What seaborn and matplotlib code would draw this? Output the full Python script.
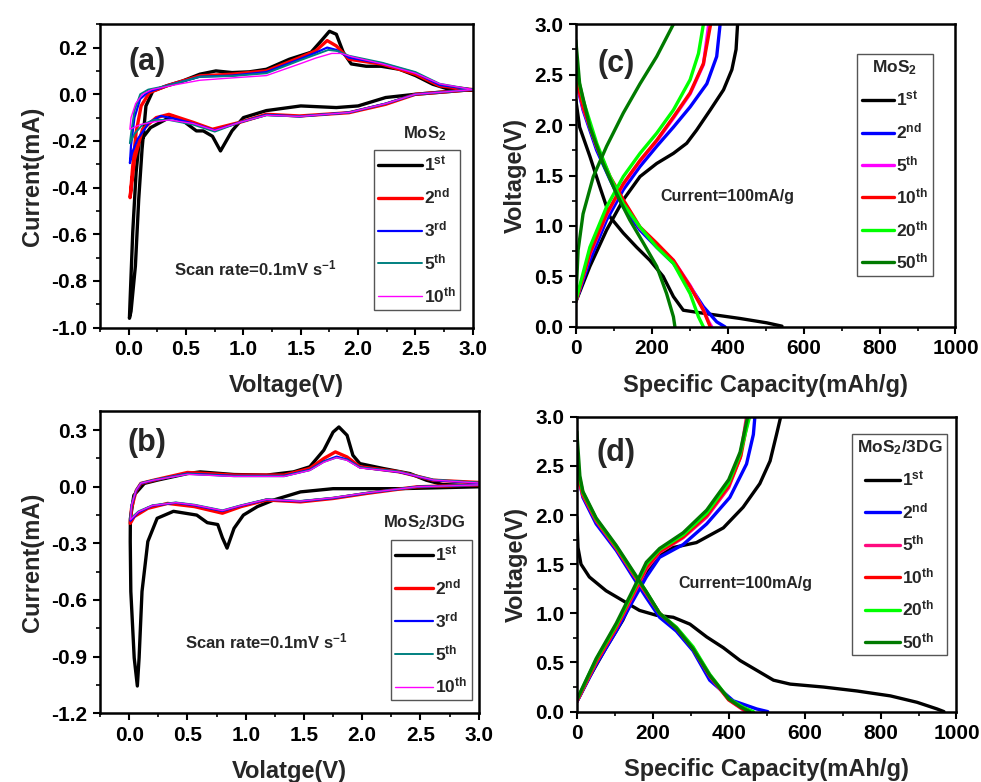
import numpy as np
import pandas as pd
import matplotlib
matplotlib.use('Agg')
import matplotlib.pyplot as plt
from matplotlib.ticker import MultipleLocator, FormatStrFormatter
import seaborn as sns

# ---- CV data, MoS2 (panel a): voltage (V), current (mA), one closed loop per cycle
a_1st_V = [3.0, 2.5, 2.24, 2.0, 1.81, 1.5, 1.2, 1.0, 0.9, 0.8, 0.73, 0.65, 0.59, 0.49, 0.38, 0.3, 0.19, 0.09, 0.064, 0.035, 0.012, 0.006,
           0.02, 0.058, 0.087, 0.116, 0.15, 0.21, 0.33, 0.47, 0.62, 0.76, 0.9, 1.05, 1.2, 1.4, 1.59, 1.68, 1.75, 1.81, 1.87, 1.94, 2.07, 2.2, 2.36, 2.5, 2.65, 2.8, 3.0]
a_1st_I = [0.02, 0.0, -0.014, -0.05, -0.057, -0.05, -0.07, -0.1, -0.157, -0.243, -0.18, -0.157, -0.157, -0.12, -0.093, -0.114, -0.143, -0.207, -0.336, -0.59, -0.88, -0.96,
           -0.93, -0.736, -0.45, -0.236, -0.05, 0.014, 0.036, 0.057, 0.086, 0.1, 0.093, 0.096, 0.107, 0.15, 0.18, 0.23, 0.27, 0.257, 0.18, 0.13, 0.12, 0.12, 0.107, 0.08, 0.043, 0.02, 0.018]
a_2nd_V = [3.0, 2.5, 2.24, 1.92, 1.49, 1.2, 0.97, 0.73, 0.56, 0.35, 0.24, 0.12, 0.05, 0.012,
           0.035, 0.064, 0.108, 0.18, 0.33, 0.62, 0.9, 1.2, 1.49, 1.63, 1.73, 1.81, 1.92, 2.21, 2.5, 2.71, 3.0]
a_2nd_I = [0.02, 0.0, -0.043, -0.079, -0.093, -0.086, -0.12, -0.15, -0.12, -0.086, -0.1, -0.15, -0.28, -0.443,
           -0.307, -0.164, -0.05, 0.007, 0.036, 0.079, 0.086, 0.1, 0.157, 0.186, 0.23, 0.207, 0.15, 0.129, 0.086, 0.036, 0.02]
a_3rd_V = [3.0, 2.5, 2.24, 1.92, 1.49, 1.2, 0.97, 0.75, 0.56, 0.4, 0.28, 0.18, 0.08, 0.03, 0.01,
           0.02, 0.05, 0.1, 0.17, 0.33, 0.62, 0.9, 1.2, 1.49, 1.63, 1.73, 1.81, 1.92, 2.21, 2.5, 2.71, 3.0]
a_3rd_I = [0.02, 0.0, -0.04, -0.078, -0.095, -0.088, -0.12, -0.155, -0.125, -0.105, -0.093, -0.12, -0.19, -0.25, -0.295,
           -0.22, -0.1, -0.02, 0.01, 0.036, 0.075, 0.08, 0.095, 0.15, 0.178, 0.2, 0.19, 0.157, 0.132, 0.092, 0.04, 0.02]
a_5th_V = [3.0, 2.5, 2.24, 1.92, 1.49, 1.2, 0.97, 0.75, 0.56, 0.35, 0.22, 0.12, 0.05, 0.01,
           0.02, 0.05, 0.1, 0.17, 0.33, 0.62, 0.9, 1.2, 1.49, 1.63, 1.74, 1.82, 1.92, 2.21, 2.5, 2.71, 3.0]
a_5th_I = [0.02, 0.0, -0.04, -0.078, -0.095, -0.09, -0.12, -0.16, -0.13, -0.11, -0.11, -0.13, -0.17, -0.21,
           -0.17, -0.07, 0.0, 0.02, 0.036, 0.075, 0.078, 0.09, 0.145, 0.17, 0.19, 0.185, 0.165, 0.135, 0.095, 0.045, 0.02]
a_10th_V = [3.0, 2.5, 2.24, 1.92, 1.49, 1.2, 0.97, 0.75, 0.56, 0.35, 0.2, 0.1, 0.01,
            0.02, 0.06, 0.12, 0.2, 0.4, 0.62, 0.9, 1.2, 1.49, 1.63, 1.77, 1.85, 1.95, 2.21, 2.5, 2.71, 3.0]
a_10th_I = [0.02, 0.0, -0.04, -0.078, -0.095, -0.09, -0.12, -0.155, -0.125, -0.11, -0.12, -0.13, -0.15,
            -0.1, -0.04, 0.0, 0.02, 0.04, 0.06, 0.07, 0.08, 0.13, 0.155, 0.175, 0.175, 0.16, 0.13, 0.09, 0.045, 0.02]

# ---- CV data, MoS2/3DG (panel b)
b_1st_V = [3.0, 2.32, 1.75, 1.47, 1.24, 1.1, 0.98, 0.9, 0.84, 0.8, 0.76, 0.67, 0.58, 0.38, 0.24, 0.16, 0.11, 0.085, 0.07, 0.043, 0.014, 0.009,
           0.01, 0.04, 0.13, 0.24, 0.5, 0.61, 0.9, 1.18, 1.41, 1.55, 1.67, 1.75, 1.8, 1.87, 1.92, 1.98, 2.18, 2.41, 2.55, 2.69, 3.0]
b_1st_I = [0.0, -0.01, -0.01, -0.027, -0.07, -0.105, -0.15, -0.22, -0.325, -0.27, -0.2, -0.19, -0.15, -0.13, -0.167, -0.29, -0.555, -0.907, -1.056, -0.907, -0.555, -0.29,
           -0.17, -0.045, 0.018, 0.035, 0.07, 0.079, 0.065, 0.062, 0.079, 0.106, 0.194, 0.29, 0.317, 0.273, 0.167, 0.123, 0.097, 0.07, 0.035, 0.012, 0.005]
b_2nd_V = [3.0, 2.47, 2.04, 1.75, 1.47, 1.18, 0.96, 0.8, 0.56, 0.33, 0.16, 0.043, 0.009,
           0.02, 0.06, 0.1, 0.21, 0.5, 0.9, 1.33, 1.55, 1.67, 1.77, 1.87, 1.98, 2.32, 2.61, 3.0]
b_2nd_I = [0.01, 0.0, -0.035, -0.062, -0.08, -0.07, -0.105, -0.14, -0.105, -0.088, -0.114, -0.158, -0.194,
           -0.114, -0.02, 0.018, 0.035, 0.076, 0.062, 0.062, 0.097, 0.15, 0.185, 0.158, 0.106, 0.079, 0.035, 0.023]
b_3rd_V = [3.0, 2.47, 2.04, 1.75, 1.47, 1.18, 0.96, 0.8, 0.56, 0.4, 0.2, 0.08, 0.01,
           0.02, 0.06, 0.1, 0.21, 0.5, 0.9, 1.33, 1.55, 1.67, 1.78, 1.87, 1.98, 2.32, 2.61, 3.0]
b_3rd_I = [0.01, 0.0, -0.033, -0.06, -0.077, -0.068, -0.1, -0.128, -0.098, -0.085, -0.1, -0.135, -0.18,
           -0.1, -0.02, 0.018, 0.035, 0.07, 0.058, 0.058, 0.09, 0.135, 0.16, 0.145, 0.103, 0.078, 0.035, 0.02]
b_5th_V = [3.0, 2.47, 2.04, 1.75, 1.47, 1.18, 0.96, 0.8, 0.56, 0.4, 0.2, 0.08, 0.01,
           0.02, 0.06, 0.1, 0.21, 0.5, 0.9, 1.33, 1.55, 1.67, 1.78, 1.87, 1.98, 2.32, 2.61, 3.0]
b_5th_I = [0.01, 0.0, -0.032, -0.058, -0.075, -0.066, -0.098, -0.125, -0.095, -0.083, -0.098, -0.13, -0.17,
           -0.095, -0.015, 0.02, 0.036, 0.068, 0.056, 0.056, 0.088, 0.132, 0.155, 0.142, 0.102, 0.08, 0.038, 0.022]
b_10th_V = [3.0, 2.47, 2.04, 1.75, 1.47, 1.18, 0.96, 0.8, 0.56, 0.4, 0.2, 0.08, 0.01,
            0.02, 0.06, 0.1, 0.21, 0.5, 0.9, 1.33, 1.55, 1.67, 1.78, 1.87, 1.98, 2.32, 2.61, 3.0]
b_10th_I = [0.01, 0.0, -0.032, -0.058, -0.076, -0.067, -0.099, -0.126, -0.096, -0.084, -0.099, -0.132, -0.175,
            -0.097, -0.017, 0.019, 0.035, 0.066, 0.055, 0.055, 0.087, 0.13, 0.155, 0.14, 0.1, 0.078, 0.036, 0.02]

# ---- charge/discharge, MoS2 (panel c): capacity (mAh/g), voltage (V)
c_1st_dQ = [0, 10, 37, 63, 90, 125, 160, 195, 230, 257, 283, 345, 433, 503, 543]
c_1st_dV = [2.25, 1.98, 1.69, 1.39, 1.09, 0.93, 0.79, 0.66, 0.5, 0.3, 0.165, 0.13, 0.083, 0.04, 0.007]
c_1st_cQ = [0, 37, 81, 125, 169, 213, 257, 292, 318, 354, 389, 411, 422, 426]
c_1st_cV = [0.25, 0.6, 0.96, 1.26, 1.49, 1.62, 1.72, 1.82, 1.95, 2.15, 2.35, 2.55, 2.75, 3.0]
c_2nd_dQ = [0, 19, 55, 90, 125, 169, 213, 257, 301, 336, 371, 393]
c_2nd_dV = [2.45, 2.15, 1.75, 1.46, 1.19, 0.96, 0.79, 0.63, 0.4, 0.2, 0.05, 0.0]
c_2nd_cQ = [0, 37, 81, 125, 169, 213, 257, 301, 345, 371, 380]
c_2nd_cV = [0.25, 0.66, 1.06, 1.36, 1.59, 1.79, 1.98, 2.18, 2.41, 2.68, 3.0]
c_5th_dQ = [0, 19, 55, 90, 125, 169, 213, 257, 301, 336, 350, 358]
c_5th_dV = [2.46, 2.17, 1.78, 1.48, 1.25, 0.98, 0.82, 0.66, 0.41, 0.17, 0.05, 0.0]
c_5th_cQ = [0, 37, 81, 125, 169, 213, 257, 301, 336, 350]
c_5th_cV = [0.25, 0.72, 1.11, 1.41, 1.64, 1.84, 2.07, 2.31, 2.6, 3.0]
c_10th_dQ = [0, 19, 55, 90, 125, 169, 213, 257, 301, 336, 354]
c_10th_dV = [2.48, 2.18, 1.79, 1.49, 1.26, 0.99, 0.83, 0.66, 0.4, 0.165, 0.0]
c_10th_cQ = [0, 37, 81, 125, 169, 213, 257, 301, 336, 355]
c_10th_cV = [0.25, 0.73, 1.12, 1.42, 1.65, 1.85, 2.08, 2.32, 2.61, 3.0]
c_20th_dQ = [0, 19, 55, 90, 125, 169, 213, 257, 301, 323, 336]
c_20th_dV = [2.58, 2.25, 1.82, 1.49, 1.22, 0.99, 0.79, 0.63, 0.33, 0.1, 0.0]
c_20th_cQ = [0, 37, 81, 125, 169, 213, 257, 301, 323, 336]
c_20th_cV = [0.26, 0.79, 1.19, 1.49, 1.72, 1.92, 2.15, 2.45, 2.71, 3.0]
c_50th_dQ = [0, 10, 37, 72, 107, 142, 178, 213, 239, 257, 261]
c_50th_dV = [2.84, 2.41, 1.98, 1.62, 1.32, 1.06, 0.83, 0.6, 0.33, 0.1, 0.0]
c_50th_cQ = [0, 6, 19, 46, 81, 125, 169, 213, 257]
c_50th_cV = [0.26, 0.76, 1.12, 1.49, 1.79, 2.12, 2.41, 2.68, 3.0]

# ---- charge/discharge, MoS2/3DG (panel d)
d_1st_dQ = [0, 3, 11, 33, 77, 121, 165, 210, 254, 298, 342, 386, 430, 474, 518, 562, 650, 738, 826, 896, 949, 967]
d_1st_dV = [1.98, 1.67, 1.5, 1.37, 1.23, 1.13, 1.03, 0.98, 0.96, 0.89, 0.76, 0.65, 0.52, 0.42, 0.32, 0.28, 0.25, 0.21, 0.16, 0.095, 0.027, 0.0]
d_1st_cQ = [0, 33, 77, 121, 148, 174, 210, 254, 315, 386, 438, 482, 509, 526, 537]
d_1st_cV = [0.1, 0.35, 0.65, 0.93, 1.16, 1.37, 1.57, 1.67, 1.72, 1.87, 2.08, 2.32, 2.55, 2.82, 3.0]
d_2nd_dQ = [0, 16, 51, 104, 148, 183, 218, 262, 306, 350, 412, 474, 503]
d_2nd_dV = [2.45, 2.18, 1.91, 1.64, 1.37, 1.16, 0.96, 0.82, 0.62, 0.32, 0.11, 0.027, 0.0]
d_2nd_cQ = [0, 51, 104, 148, 183, 218, 280, 342, 403, 447, 465, 469]
d_2nd_cV = [0.1, 0.48, 0.82, 1.13, 1.37, 1.57, 1.7, 1.91, 2.18, 2.52, 2.82, 3.0]
d_5th_dQ = [0, 16, 51, 104, 148, 183, 218, 262, 306, 350, 400, 430, 445]
d_5th_dV = [2.42, 2.2, 1.94, 1.66, 1.4, 1.2, 1.0, 0.85, 0.64, 0.36, 0.12, 0.04, 0.0]
d_5th_cQ = [0, 51, 104, 148, 183, 218, 280, 342, 400, 430, 447]
d_5th_cV = [0.1, 0.5, 0.85, 1.18, 1.45, 1.62, 1.77, 1.98, 2.28, 2.58, 3.0]
d_10th_dQ = [0, 16, 51, 104, 148, 183, 218, 262, 306, 350, 400, 432, 450]
d_10th_dV = [2.44, 2.21, 1.95, 1.67, 1.41, 1.21, 1.0, 0.85, 0.65, 0.37, 0.12, 0.04, 0.0]
d_10th_cQ = [0, 51, 104, 148, 183, 218, 280, 342, 400, 432, 452]
d_10th_cV = [0.11, 0.51, 0.86, 1.2, 1.47, 1.63, 1.78, 2.0, 2.3, 2.6, 3.0]
d_20th_dQ = [0, 16, 51, 104, 148, 183, 218, 262, 306, 350, 400, 440, 465]
d_20th_dV = [2.5, 2.23, 1.96, 1.68, 1.42, 1.22, 1.0, 0.86, 0.66, 0.38, 0.13, 0.04, 0.0]
d_20th_cQ = [0, 51, 104, 148, 183, 218, 280, 342, 400, 430, 455]
d_20th_cV = [0.12, 0.53, 0.88, 1.22, 1.5, 1.65, 1.8, 2.02, 2.33, 2.62, 3.0]
d_50th_dQ = [0, 8, 16, 51, 104, 148, 183, 218, 262, 306, 350, 400, 430, 455]
d_50th_dV = [2.85, 2.4, 2.24, 1.97, 1.69, 1.43, 1.22, 1.0, 0.85, 0.64, 0.37, 0.13, 0.05, 0.0]
d_50th_cQ = [0, 51, 104, 148, 183, 218, 280, 342, 400, 430, 450]
d_50th_cV = [0.12, 0.54, 0.9, 1.24, 1.52, 1.66, 1.82, 2.05, 2.36, 2.64, 3.0]

cv_labels = ['1$^{st}$', '2$^{nd}$', '3$^{rd}$', '5$^{th}$', '10$^{th}$']
cv_colors = ['black', '#ff0000', '#0000ff', '#008080', '#ff00ff']
cv_widths = [2.4, 2.4, 1.6, 1.4, 1.0]
gcd_labels = ['1$^{st}$', '2$^{nd}$', '5$^{th}$', '10$^{th}$', '20$^{th}$', '50$^{th}$']
c_colors = ['black', '#0000ff', '#ff00ff', '#ff0000', '#00ff00', '#007a00']
d_colors = ['black', '#0000ff', '#ff0a7f', '#ff0000', '#00ff00', '#007a00']

sns.set_theme(style='ticks')
plt.rcParams['font.family'] = ['Liberation Sans', 'DejaVu Sans']
plt.rcParams.update({
    'font.weight': 'bold', 'axes.labelweight': 'bold',
    'mathtext.fontset': 'custom', 'mathtext.rm': 'Liberation Sans:bold',
    'mathtext.it': 'Liberation Sans:bold', 'mathtext.bf': 'Liberation Sans:bold',
    'mathtext.default': 'rm',
    'axes.edgecolor': 'black', 'axes.linewidth': 1.8,
    'xtick.direction': 'out', 'ytick.direction': 'out',
    'xtick.major.size': 5, 'ytick.major.size': 5, 'xtick.minor.size': 3, 'ytick.minor.size': 3,
    'xtick.major.width': 1.5, 'ytick.major.width': 1.5, 'xtick.minor.width': 1.2, 'ytick.minor.width': 1.2,
    'xtick.color': 'black', 'ytick.color': 'black',
})

fig = plt.figure(figsize=(9.81, 7.82), dpi=100)
ax_a = fig.add_axes([0.102, 0.581, 0.380, 0.388])
ax_c = fig.add_axes([0.587, 0.582, 0.387, 0.387])
ax_b = fig.add_axes([0.102, 0.088, 0.386, 0.386])
ax_d = fig.add_axes([0.588, 0.090, 0.387, 0.377])


def draw(ax, x, y, color, lw, label=None):
    sns.lineplot(x=x, y=y, ax=ax, sort=False, estimator=None, color=color, lw=lw, label=label, legend=False)


def style(ax, xlim, ylim, xmaj, ymaj, xlabel, ylabel, tag, tagpos):
    ax.set_xlim(*xlim)
    ax.set_ylim(*ylim)
    ax.xaxis.set_major_locator(MultipleLocator(xmaj))
    ax.xaxis.set_minor_locator(MultipleLocator(xmaj / 2))
    ax.yaxis.set_major_locator(MultipleLocator(ymaj))
    ax.yaxis.set_minor_locator(MultipleLocator(ymaj / 2))
    ax.tick_params(labelsize=15, pad=4)
    ax.set_xlabel(xlabel, fontsize=17, labelpad=11)
    ax.set_ylabel(ylabel, fontsize=17, labelpad=5)
    for s in ax.spines.values():
        s.set_visible(True)
        s.set_color('black')
    ax.text(*tagpos, tag, transform=ax.transAxes, fontsize=22, fontweight='bold', ha='center', va='center')


def legend(ax, anchor, title=None, hl=2.4, ls=0.6):
    ax.legend(loc='upper left', bbox_to_anchor=anchor, title=title, title_fontsize=12.5, fontsize=12.5,
              frameon=True, fancybox=False, edgecolor='#555555', framealpha=1, handlelength=hl,
              handletextpad=0.1, labelspacing=ls, borderpad=0.25, borderaxespad=0)


# panel a
cv_a = [(a_1st_V, a_1st_I), (a_2nd_V, a_2nd_I), (a_3rd_V, a_3rd_I), (a_5th_V, a_5th_I), (a_10th_V, a_10th_I)]
for (v, i), lab, col, lw in zip(cv_a, cv_labels, cv_colors, cv_widths):
    draw(ax_a, v, i, col, lw, lab)
style(ax_a, (-0.25, 3.0), (-1.0, 0.3), 0.5, 0.2, 'Voltage(V)', 'Current(mA)', '(a)', (0.126, 0.875))
ax_a.yaxis.set_major_formatter(FormatStrFormatter('%.1f'))
ax_a.text(0.416, 0.194, 'Scan rate=0.1mV s$^{-1}$', transform=ax_a.transAxes, fontsize=12, ha='center', va='center')
ax_a.text(0.871, 0.641, 'MoS$_2$', transform=ax_a.transAxes, fontsize=12, ha='center', va='center')
legend(ax_a, (0.735, 0.586), hl=2.5, ls=0.75)

# panel b
cv_b = [(b_1st_V, b_1st_I), (b_2nd_V, b_2nd_I), (b_3rd_V, b_3rd_I), (b_5th_V, b_5th_I), (b_10th_V, b_10th_I)]
for (v, i), lab, col, lw in zip(cv_b, cv_labels, cv_colors, cv_widths):
    draw(ax_b, v, i, col, lw, lab)
style(ax_b, (-0.25, 3.0), (-1.2, 0.4), 0.5, 0.3, 'Volatge(V)', 'Current(mA)', '(b)', (0.123, 0.894))
ax_b.yaxis.set_minor_locator(MultipleLocator(0.15))
ax_b.yaxis.set_major_formatter(FormatStrFormatter('%.1f'))
ax_b.text(0.438, 0.238, 'Scan rate=0.1mV s$^{-1}$', transform=ax_b.transAxes, fontsize=12, ha='center', va='center')
ax_b.text(0.855, 0.632, 'MoS$_2$/3DG', transform=ax_b.transAxes, fontsize=12, ha='center', va='center')
legend(ax_b, (0.768, 0.573), hl=2.2, ls=0.75)

# panel c
gcd_c = [(c_1st_dQ, c_1st_dV, c_1st_cQ, c_1st_cV), (c_2nd_dQ, c_2nd_dV, c_2nd_cQ, c_2nd_cV),
         (c_5th_dQ, c_5th_dV, c_5th_cQ, c_5th_cV), (c_10th_dQ, c_10th_dV, c_10th_cQ, c_10th_cV),
         (c_20th_dQ, c_20th_dV, c_20th_cQ, c_20th_cV), (c_50th_dQ, c_50th_dV, c_50th_cQ, c_50th_cV)]
for (dq, dv, cq, cv), lab, col in zip(gcd_c, gcd_labels, c_colors):
    draw(ax_c, dq, dv, col, 2.4)
    draw(ax_c, cq, cv, col, 2.4, lab)
style(ax_c, (0, 1000), (0, 3.0), 200, 0.5, 'Specific Capacity(mAh/g)', 'Voltage(V)', '(c)', (0.105, 0.868))
ax_c.yaxis.set_major_formatter(FormatStrFormatter('%.1f'))
ax_c.text(0.398, 0.432, 'Current=100mA/g', transform=ax_c.transAxes, fontsize=11.5, ha='center', va='center')
legend(ax_c, (0.741, 0.901), title='MoS$_2$', hl=1.9, ls=0.72)

# panel d
gcd_d = [(d_1st_dQ, d_1st_dV, d_1st_cQ, d_1st_cV), (d_2nd_dQ, d_2nd_dV, d_2nd_cQ, d_2nd_cV),
         (d_5th_dQ, d_5th_dV, d_5th_cQ, d_5th_cV), (d_10th_dQ, d_10th_dV, d_10th_cQ, d_10th_cV),
         (d_20th_dQ, d_20th_dV, d_20th_cQ, d_20th_cV), (d_50th_dQ, d_50th_dV, d_50th_cQ, d_50th_cV)]
for (dq, dv, cq, cv), lab, col in zip(gcd_d, gcd_labels, d_colors):
    draw(ax_d, dq, dv, col, 2.4)
    draw(ax_d, cq, cv, col, 2.4, lab)
style(ax_d, (0, 1000), (0, 3.0), 200, 0.5, 'Specific Capacity(mAh/g)', 'Voltage(V)', '(d)', (0.103, 0.878))
ax_d.yaxis.set_major_formatter(FormatStrFormatter('%.1f'))
ax_d.text(0.443, 0.434, 'Current=100mA/g', transform=ax_d.transAxes, fontsize=11.5, ha='center', va='center')
legend(ax_d, (0.726, 0.942), title='MoS$_2$/3DG', hl=2.0, ls=0.72)

fig.savefig('out.png', dpi=100)
